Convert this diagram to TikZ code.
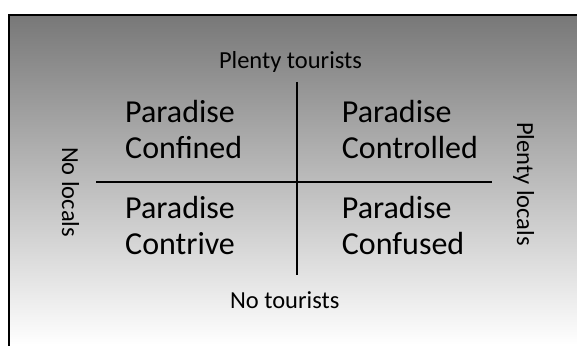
\documentclass[tikz,border=0pt]{standalone}
\usepackage{fontspec}
\setmainfont{Carlito}
\begin{document}
\begin{tikzpicture}[x=1pt,y=1pt,
  axis/.style={line width=1.3pt},
  big/.style={font=\fontsize{32}{36}\selectfont,align=left,inner sep=0pt},
  small/.style={font=\fontsize{24.5}{29}\selectfont,inner sep=0pt}]
  \useasboundingbox (0,0) rectangle (577,345);
  \shade[top color=black!53,bottom color=white] (9,0) rectangle (577,330);
  \draw[line width=1.6pt] (9,-5) -- (9,330) -- (582,330);
  % the cross
  \coordinate (top) at (297,263);
  \coordinate (bot) at (297,70);
  \coordinate (lft) at (96,163);
  \coordinate (rgt) at (492,163);
  \draw[axis] (top) -- (bot);
  \draw[axis] (lft) -- (rgt);
  % axis labels
  \node[small,anchor=base] (pt) at (290.5,276.7) {Plenty tourists};
  \node[small,anchor=base] (nt) at (284.7,36.7) {No tourists};
  \node[small,anchor=base,rotate=-90] (nl) at (62,153) {No locals};
  \node[small,anchor=base,rotate=-90] (pl) at (517,161) {Plenty locals};
  % quadrants (base = last line)
  \node[big,anchor=base west] (pcf) at (125,186.7) {Paradise\\Confined};
  \node[big,anchor=base west] (pco) at (341.7,186.7) {Paradise\\Controlled};
  \node[big,anchor=base west] (pct) at (125,90) {Paradise\\Contrive};
  \node[big,anchor=base west] (pcu) at (341.7,90) {Paradise\\Confused};
\end{tikzpicture}
\end{document}
